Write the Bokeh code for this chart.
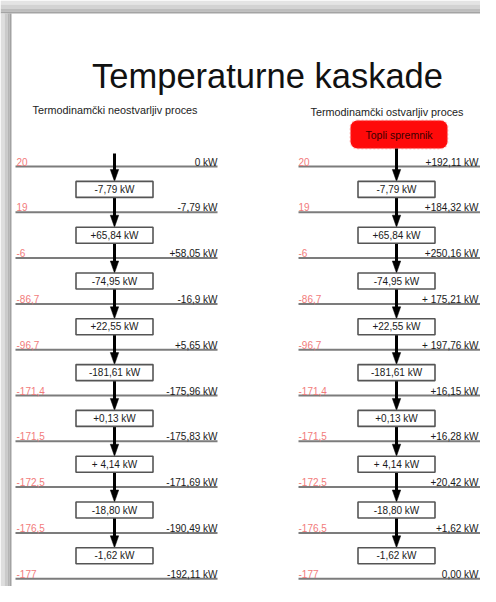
from bokeh.plotting import figure
from bokeh.models import Range1d, ColumnDataSource, BoxAnnotation
from bokeh.embed import file_html
from bokeh.resources import INLINE
from bokeh.core.properties import value

# ---------------- data ----------------
title_text = "Temperaturne kaskade"
subtitle_left = "Termodinamčki neostvarljiv proces"
subtitle_right = "Termodinamčki ostvarljiv proces"
hot_reservoir = "Topli spremnik"

temperatures = [20, 19, -6, -86.7, -96.7, -171.4, -171.5, -172.5, -176.5, -177]
temp_labels = ["20", "19", "-6", "-86,7", "-96,7", "-171,4", "-171,5",
               "-172,5", "-176,5", "-177"]

interval_heat = [-7.79, 65.84, -74.95, 22.55, -181.61, 0.13, 4.14, -18.80, -1.62]
interval_labels = ["-7,79 kW", "+65,84 kW", "-74,95 kW", "+22,55 kW",
                   "-181,61 kW", "+0,13 kW", "+ 4,14 kW", "-18,80 kW", "-1,62 kW"]

cascade_left = [0, -7.79, 58.05, -16.9, 5.65, -175.96, -175.83, -171.69,
                -190.49, -192.11]
cascade_left_labels = ["0 kW", "-7,79 kW", "+58,05 kW", "-16,9 kW", "+5,65 kW",
                       "-175,96 kW", "-175,83 kW", "-171,69 kW", "-190,49 kW",
                       "-192,11 kW"]

cascade_right = [192.11, 184.32, 250.16, 175.21, 197.76, 16.15, 16.28, 20.42,
                 1.62, 0.00]
cascade_right_labels = ["+192,11 kW", "+184,32 kW", "+250,16 kW", "+ 175,21 kW",
                        "+ 197,76 kW", "+16,15 kW", "+16,28 kW", "+20,42 kW",
                        "+1,62 kW", "0,00 kW"]

# ---------------- layout ----------------
FONT = value("Liberation Sans")
W, H = 480, 586
LEVEL_Y0 = 166.0
LEVEL_STEP = 45.8
BOX_H = 16.0
BOX_W = 77.0
HEAD_L = 12.0
HEAD_HW = 4.2

p = figure(width=W, height=H, output_backend="svg", toolbar_location=None,
           x_range=Range1d(0, W), y_range=Range1d(H, 0),
           min_border=0, background_fill_color="white",
           border_fill_color="white")
p.axis.visible = False
p.grid.visible = False
p.outline_line_color = None

# slide shadow (top and left edges)
shade_top = [("#e4e4e4", 0, 4), ("#d3d3d3", 4, 8), ("#bdbdbd", 8, 11),
             ("#a4a4a4", 11, 13)]
for c, a, b in shade_top:
    p.quad(left=0, right=W, top=a, bottom=b, fill_color=c, line_color=None)
shade_left = [("#dedede", 0, 4), ("#cacaca", 4, 7), ("#b4b4b4", 7, 9),
              ("#a2a2a2", 9, 11)]
for c, a, b in shade_left:
    p.quad(left=a, right=b, top=13, bottom=H, fill_color=c, line_color=None)

# title and subtitles
p.text(x=[267], y=[75], text=[title_text], text_font=FONT,
       text_font_size="34.5px", text_align="center", text_baseline="alphabetic",
       text_color="#111111")
p.text(x=[32], y=[109], text=[subtitle_left], text_font=FONT,
       text_font_size="10.8px", text_align="left", text_baseline="alphabetic",
       text_color="#222222")
p.text(x=[310], y=[111], text=[subtitle_right], text_font=FONT,
       text_font_size="10.8px", text_align="left", text_baseline="alphabetic",
       text_color="#222222")

# hot reservoir
p.add_layout(BoxAnnotation(left=350, right=447, top=120, bottom=148,
                           fill_color="#ff0a0a", fill_alpha=1.0,
                           line_color="#ff5050", line_width=2,
                           line_dash="2 2", border_radius=7, level="underlay"))
p.text(x=[398.5], y=[134], text=[hot_reservoir], text_font=FONT,
       text_font_size="10.5px", text_align="center", text_baseline="middle",
       text_color="#3a0000")

n_levels = len(temperatures)
level_y = [LEVEL_Y0 + i * LEVEL_STEP for i in range(n_levels)]
box_mid = [(level_y[i] + level_y[i + 1]) / 2 for i in range(len(interval_heat))]

panels = [
    dict(x0=15, x1=217, ax=114, tx=16, cx=217,
         labels=cascade_left_labels, start=level_y[0] - 13),
    dict(x0=298, x1=W, ax=396, tx=298, cx=478,
         labels=cascade_right_labels, start=148),
]

for pan in panels:
    # temperature levels
    p.segment(x0=[pan["x0"]] * n_levels, x1=[pan["x1"]] * n_levels,
              y0=level_y, y1=level_y, line_color="#7c7c7c", line_width=2)
    p.text(x=[pan["tx"]] * n_levels, y=[y - 5 for y in level_y],
           text=temp_labels, text_font=FONT, text_font_size="10px",
           text_align="left", text_baseline="alphabetic",
           text_color="#f27b7b")
    p.text(x=[pan["cx"]] * n_levels, y=[y - 4.5 for y in level_y],
           text=pan["labels"], text_font=FONT, text_font_size="10px",
           text_align="right", text_baseline="alphabetic",
           text_color="#1a1a1a")

    # arrows into each interval box
    starts = [pan["start"]] + [m + BOX_H / 2 for m in box_mid[:-1]]
    ends = [m - BOX_H / 2 for m in box_mid]
    ax = pan["ax"]
    p.segment(x0=[ax] * len(ends), x1=[ax] * len(ends), y0=starts,
              y1=[e - HEAD_L + 1 for e in ends], line_color="black",
              line_width=3)
    p.patches(xs=[[ax - HEAD_HW, ax + HEAD_HW, ax] for _ in ends],
              ys=[[e - HEAD_L, e - HEAD_L, e] for e in ends],
              fill_color="black", line_color="black", line_width=0.5)

    # interval boxes
    box_src = ColumnDataSource(dict(x=[ax] * len(box_mid), y=box_mid,
                                    t=interval_labels))
    p.rect(x="x", y="y", width=BOX_W, height=BOX_H, source=box_src,
           fill_color="white", line_color="#555555", line_width=1.6)
    p.text(x="x", y="y", text="t", source=box_src, text_font=FONT,
           text_font_size="10px", text_align="center", text_baseline="middle",
           text_color="#1a1a1a")

open("out.html", "w").write(file_html(p, INLINE))
